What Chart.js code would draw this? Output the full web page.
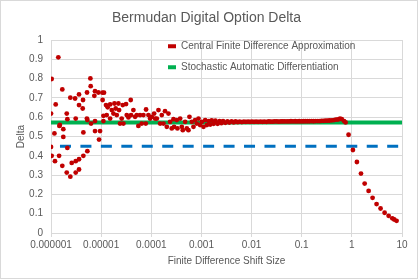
<!DOCTYPE html>
<html>
<head>
<meta charset="utf-8">
<script src="https://cdn.jsdelivr.net/npm/chart.js@4.4.0/dist/chart.umd.min.js"></script>
<style>
  html, body { margin: 0; padding: 0; background: #fff; }
  #wrap { position: absolute; left: 0; top: 0; width: 416px; height: 277px; border: 1px solid #d9d9d9; }
</style>
</head>
<body>
<div id="wrap"><canvas id="chart"></canvas></div>
<script>
// central finite difference estimates, by shift size
const shiftSizes = [
  1.00e-6, 1.03e-6, 1.00e-6, 1.03e-6, 1.20e-6, 1.17e-6, 1.24e-6, 1.40e-6, 1.47e-6, 1.50e-6,
  1.45e-6, 1.68e-6, 1.76e-6, 1.76e-6, 1.68e-6, 2.06e-6, 2.12e-6, 2.12e-6, 2.06e-6, 2.43e-6,
  2.43e-6, 2.59e-6, 3.02e-6, 3.11e-6, 3.11e-6, 3.11e-6, 3.62e-6, 3.62e-6, 3.62e-6, 3.62e-6,
  4.29e-6, 4.35e-6, 4.42e-6, 4.42e-6, 5.23e-6, 5.20e-6, 5.31e-6, 5.31e-6, 6.10e-6, 6.19e-6,
  6.29e-6, 7.32e-6, 7.55e-6, 7.55e-6, 7.55e-6, 8.81e-6, 9.08e-6, 9.51e-6, 1.06e-5, 1.07e-5,
  1.11e-5, 1.11e-5, 1.14e-5, 1.25e-5, 1.29e-5, 1.35e-5, 1.51e-5, 1.51e-5, 1.63e-5, 1.76e-5,
  1.84e-5, 1.95e-5, 2.05e-5, 2.21e-5, 2.28e-5, 2.38e-5, 2.57e-5, 2.70e-5, 2.78e-5, 3.14e-5,
  3.24e-5, 3.50e-5, 3.89e-5, 3.95e-5, 4.40e-5, 4.75e-5, 5.13e-5, 5.53e-5, 5.97e-5, 6.45e-5,
  6.97e-5, 7.87e-5, 7.76e-5, 8.77e-5, 9.47e-5, 1.02e-4, 1.14e-4, 1.19e-4, 1.29e-4, 1.39e-4,
  1.50e-4, 1.62e-4, 1.75e-4, 1.88e-4, 2.04e-4, 2.20e-4, 2.37e-4, 2.56e-4, 2.77e-4, 2.85e-4,
  3.22e-4, 3.32e-4, 3.76e-4, 4.06e-4, 4.25e-4, 4.73e-4, 5.11e-4, 5.51e-4, 5.77e-4, 6.43e-4,
  6.94e-4, 7.48e-4, 8.09e-4, 8.73e-4, 9.42e-4, 1.02e-3, 1.10e-3, 1.19e-3, 1.28e-3,
  1.40e-3, 1.50e-3, 1.60e-3, 1.75e-3, 1.90e-3, 2.10e-3, 2.30e-3, 2.50e-3, 2.70e-3, 3.00e-3,
  3.30e-3, 3.60e-3, 4.00e-3, 4.40e-3, 4.80e-3, 5.30e-3, 5.80e-3, 6.40e-3, 7.00e-3, 7.70e-3,
  8.50e-3, 9.30e-3, 1.02e-2, 1.12e-2, 1.23e-2, 1.35e-2, 1.50e-2, 1.65e-2, 1.80e-2, 2.00e-2,
  2.20e-2, 2.40e-2, 2.65e-2, 2.90e-2, 3.20e-2, 3.50e-2, 3.85e-2, 4.20e-2, 4.60e-2, 5.10e-2,
  5.60e-2, 6.10e-2, 6.70e-2, 7.40e-2, 8.10e-2, 8.90e-2, 9.80e-2, 0.108, 0.118, 0.130,
  0.143, 0.157, 0.172, 0.190, 0.210, 0.230, 0.250, 0.275, 0.300, 0.330,
  0.360, 0.400, 0.440, 0.480, 0.530, 0.580, 0.630, 0.700, 0.750,
  0.86, 1.05, 1.26, 1.52, 1.80, 2.16, 2.59, 3.11, 3.74, 4.50,
  5.41, 6.40, 7.00, 7.80
];
const cfdDelta = [
  0.619, 0.798, 0.446, 0.400, 0.372, 0.516, 0.666, 0.910, 0.555, 0.560,
  0.400, 0.744, 0.538, 0.498, 0.348, 0.619, 0.590, 0.441, 0.313, 0.292,
  0.701, 0.363, 0.697, 0.593, 0.372, 0.313, 0.718, 0.663, 0.382, 0.329,
  0.645, 0.689, 0.521, 0.400, 0.728, 0.593, 0.585, 0.424, 0.801, 0.761,
  0.567, 0.711, 0.735, 0.580, 0.528, 0.728, 0.484, 0.528, 0.727, 0.689,
  0.607, 0.580, 0.727, 0.663, 0.611, 0.651, 0.593, 0.666, 0.637, 0.619,
  0.671, 0.645, 0.611, 0.671, 0.637, 0.567, 0.593, 0.663, 0.567, 0.668,
  0.611, 0.599, 0.689, 0.611, 0.637, 0.602, 0.611, 0.555, 0.611, 0.567,
  0.611, 0.640, 0.567, 0.611, 0.593, 0.602, 0.619, 0.593, 0.593, 0.637,
  0.567, 0.611, 0.567, 0.631, 0.550, 0.619, 0.576, 0.542, 0.590, 0.550,
  0.585, 0.542, 0.593, 0.550, 0.533, 0.576, 0.542, 0.533, 0.602, 0.576,
  0.550, 0.585, 0.567, 0.593, 0.559, 0.576, 0.550, 0.585, 0.559,
  0.580, 0.562, 0.584, 0.566, 0.582, 0.566, 0.580, 0.569, 0.579, 0.571,
  0.578, 0.572, 0.578, 0.573, 0.578, 0.574, 0.577, 0.575, 0.577, 0.576,
  0.577, 0.576, 0.577, 0.576, 0.577, 0.576, 0.577, 0.576, 0.577, 0.576,
  0.578, 0.577, 0.577, 0.578, 0.578, 0.577, 0.578, 0.578, 0.578, 0.578,
  0.578, 0.579, 0.578, 0.579, 0.578, 0.579, 0.578, 0.579, 0.579, 0.579,
  0.579, 0.580, 0.579, 0.580, 0.580, 0.580, 0.581, 0.581, 0.582, 0.582,
  0.583, 0.584, 0.585, 0.587, 0.588, 0.592, 0.590, 0.580, 0.573,
  0.509, 0.430, 0.368, 0.308, 0.256, 0.218, 0.182, 0.150, 0.127, 0.105,
  0.089, 0.076, 0.070, 0.063
];

// stochastic AAD value and the dashed level line
const sadRange = [1e-6, 10];
const sadDelta = [0.573, 0.573];
const dashRange = [1.51e-6, 10];
const dashLevel = [0.45, 0.45];

const xTickValues = [1e-6, 1e-5, 1e-4, 1e-3, 1e-2, 0.1, 1, 10];
const xTickLabels = ['0.000001', '0.00001', '0.0001', '0.001', '0.01', '0.1', '1', '10'];
const yTickLabels = ['0', '0.1', '0.2', '0.3', '0.4', '0.5', '0.6', '0.7', '0.8', '0.9', '1'];

const seriesNames = ['Central Finite Difference Approximation', 'Stochastic Automatic Differentiation'];

const font = '"Liberation Sans", Arial, sans-serif';
const textColor = '#595959';
const gridColor = '#d9d9d9';

// put the legend inside the plot, top middle
const legendPlacer = {
  id: 'legendPlacer',
  afterLayout(chart) {
    chart.legend.left = 156;
    chart.legend.top = 29.3;
  }
};

const ctx = document.getElementById('chart').getContext('2d');
new Chart(ctx, {
  type: 'scatter',
  data: {
    datasets: [
      {
        label: seriesNames[0],
        data: shiftSizes.map((x, i) => ({x: x, y: cfdDelta[i]})),
        backgroundColor: '#c00000',
        borderWidth: 0,
        pointRadius: 2.4,
        pointHoverRadius: 2.4
      },
      {
        label: seriesNames[1],
        data: sadRange.map((x, i) => ({x: x, y: sadDelta[i]})),
        showLine: true,
        borderColor: '#00b050',
        backgroundColor: '#00b050',
        borderWidth: 4,
        pointRadius: 0
      },
      {
        label: 'level',
        data: dashRange.map((x, i) => ({x: x, y: dashLevel[i]})),
        showLine: true,
        borderColor: '#0070c0',
        backgroundColor: '#0070c0',
        borderWidth: 3,
        borderDash: [11, 9.45],
        pointRadius: 0
      }
    ]
  },
  options: {
    responsive: true,
    maintainAspectRatio: false,
    animation: false,
    layout: { padding: { left: 10, right: 15, top: 0, bottom: 7 } },
    plugins: {
      title: {
        display: true,
        text: 'Bermudan Digital Option Delta',
        color: textColor,
        font: { family: font, size: 14, weight: 'normal' },
        padding: { top: 8.6, bottom: 13.6 }
      },
      legend: {
        position: 'chartArea',
        align: 'start',
        labels: {
          color: textColor,
          font: { family: font, size: 10 },
          boxWidth: 8,
          boxHeight: 4,
          padding: 11,
          generateLabels(chart) {
            const items = Chart.defaults.plugins.legend.labels.generateLabels(chart);
            return items.filter(it => it.datasetIndex < 2).map(it => {
              it.lineWidth = 0;
              it.lineDash = [];
              return it;
            });
          }
        }
      },
      tooltip: { enabled: false }
    },
    scales: {
      x: {
        type: 'logarithmic',
        min: 1e-6,
        max: 10,
        afterBuildTicks(scale) {
          scale.ticks = xTickValues.map(v => ({ value: v }));
        },
        afterFit(scale) { scale.height = 38; },
        ticks: {
          color: textColor,
          font: { family: font, size: 10 },
          padding: 2,
          maxRotation: 0,
          autoSkip: false,
          callback: (v) => xTickLabels[xTickValues.indexOf(v)]
        },
        grid: { color: gridColor, tickLength: 4, drawTicks: true },
        border: { color: gridColor },
        title: {
          display: true,
          text: 'Finite Difference Shift Size',
          color: textColor,
          font: { family: font, size: 10 },
          padding: { top: 4, bottom: 4 }
        }
      },
      y: {
        min: 0,
        max: 1,
        afterFit(scale) { scale.width = 40; },
        ticks: {
          stepSize: 0.1,
          color: textColor,
          font: { family: font, size: 10 },
          padding: 8,
          callback: (v, i) => yTickLabels[i]
        },
        grid: { color: gridColor, drawTicks: false },
        border: { color: gridColor },
        title: {
          display: true,
          text: 'Delta',
          color: textColor,
          font: { family: font, size: 10 },
          padding: { top: 4, bottom: 4 }
        }
      }
    }
  },
  plugins: [legendPlacer]
});
</script>
</body>
</html>
